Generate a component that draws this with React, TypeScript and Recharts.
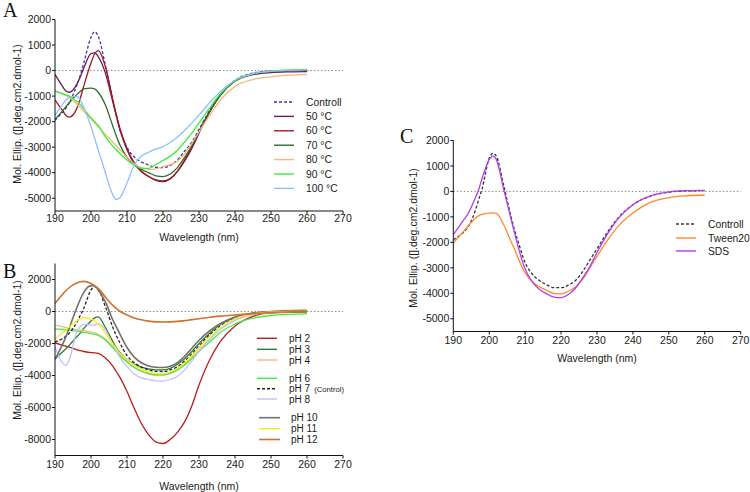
import React from 'react';
import { LineChart, Line, XAxis, YAxis, ReferenceLine, Legend } from 'recharts';

const FONT = '"Liberation Sans", Arial, Helvetica, sans-serif';

// Wavelength grid (nm) shared by all series
const wavelength = [190, 192, 193, 194, 196, 197, 198, 200, 201, 202, 204, 206, 207, 208, 210, 212, 214, 216, 218, 220, 222, 224, 226, 228, 230, 233, 236, 240, 245, 250, 255, 260];
const xTicks = [190, 200, 210, 220, 230, 240, 250, 260, 270];
const tempYTicks = [2000, 1000, 0, -1000, -2000, -3000, -4000, -5000];
const phYTicks = [2000, 0, -2000, -4000, -6000, -8000];
const surfYTicks = [2000, 1000, 0, -1000, -2000, -3000, -4000, -5000];

// Panel A: temperature
const tControl = [-1950, -1650, -1480, -1250, -600, -200, 300, 1300, 1520, 1350, 200, -1100, -1750, -2300, -3000, -3380, -3580, -3700, -3790, -3800, -3720, -3500, -3150, -2800, -2300, -1550, -920, -380, -100, -20, 0, 20];
const t50 = [-150, -600, -800, -850, -550, -250, 100, 660, 690, 550, -100, -1200, -1750, -2300, -3100, -3650, -3950, -4150, -4300, -4350, -4250, -3950, -3550, -3050, -2450, -1600, -950, -420, -160, -80, -50, -40];
const t60 = [-1150, -1550, -1750, -1820, -1500, -1100, -600, 300, 650, 780, 150, -1100, -1700, -2250, -3050, -3600, -3950, -4150, -4280, -4320, -4230, -3950, -3500, -3000, -2400, -1600, -950, -400, -130, -30, 0, 10];
const t70 = [-1900, -1600, -1420, -1250, -950, -820, -720, -690, -720, -850, -1350, -2150, -2550, -2900, -3400, -3700, -3870, -4000, -4120, -4150, -4050, -3800, -3400, -2950, -2400, -1600, -950, -400, -130, -30, 10, 40];
const t80 = [-780, -900, -970, -1050, -1300, -1450, -1600, -1900, -2050, -2200, -2500, -2800, -2950, -3100, -3400, -3650, -3800, -3870, -3850, -3760, -3680, -3550, -3250, -2850, -2400, -1750, -1150, -620, -350, -240, -180, -150];
const t90 = [-800, -900, -950, -1000, -1200, -1330, -1500, -1850, -2000, -2150, -2600, -2950, -3100, -3250, -3500, -3700, -3830, -3830, -3680, -3520, -3350, -3120, -2800, -2450, -2050, -1450, -900, -400, -130, -20, 20, 50];
const t100 = [-1750, -1350, -1150, -1050, -1000, -1150, -1450, -2200, -2650, -3100, -4000, -4850, -5050, -4980, -4400, -3700, -3350, -3200, -3080, -2980, -2820, -2600, -2350, -2050, -1750, -1250, -820, -380, -120, -30, 10, 30];

// Panel B: pH
const ph2 = [-1950, -2100, -2170, -2230, -2380, -2450, -2500, -2570, -2580, -2620, -2900, -3400, -3750, -4100, -5000, -6050, -7000, -7700, -8150, -8250, -8000, -7550, -6900, -5900, -4600, -3000, -1850, -900, -300, -90, -50, -40];
const ph3 = [-2950, -2550, -2330, -2100, -1600, -1350, -1050, -600, -400, -340, -1000, -1850, -2250, -2550, -3000, -3300, -3480, -3580, -3650, -3650, -3550, -3300, -2950, -2500, -2000, -1350, -800, -380, -110, -20, 0, 0];
const ph4 = [-850, -950, -1000, -1050, -1130, -1160, -1200, -1280, -1330, -1420, -1720, -2200, -2450, -2700, -3150, -3500, -3750, -3920, -4000, -4000, -3880, -3650, -3300, -2850, -2400, -1700, -1100, -550, -180, -10, 80, 130];
const ph6 = [-1080, -1120, -1140, -1170, -1220, -1260, -1300, -1380, -1420, -1500, -1780, -2250, -2500, -2750, -3150, -3500, -3720, -3870, -3950, -3950, -3850, -3650, -3350, -2950, -2500, -1900, -1300, -780, -420, -250, -180, -150];
const ph7 = [-1900, -1700, -1550, -1350, -700, -250, 200, 1350, 1550, 1400, 300, -950, -1500, -1950, -2750, -3200, -3480, -3650, -3740, -3750, -3650, -3450, -3100, -2650, -2150, -1450, -900, -420, -130, -20, 10, 20];
const ph8 = [-2200, -3200, -3380, -3000, -1300, -950, -800, -850, -850, -760, -1150, -2050, -2450, -2850, -3450, -3900, -4150, -4250, -4330, -4350, -4250, -4050, -3650, -3100, -2500, -1750, -1100, -550, -200, -60, 0, 20];
const ph10 = [-3000, -2100, -1600, -1000, 200, 750, 1200, 1620, 1600, 1350, 600, -500, -950, -1400, -2250, -2850, -3200, -3400, -3480, -3500, -3420, -3200, -2800, -2300, -1800, -1200, -750, -350, -100, 0, 30, 40];
const ph11 = [-1700, -1350, -1150, -950, -600, -470, -390, -480, -600, -760, -1350, -2000, -2300, -2600, -3000, -3350, -3600, -3780, -3880, -3900, -3780, -3550, -3200, -2750, -2250, -1550, -950, -450, -150, -30, 0, 0];
const ph12 = [500, 1050, 1300, 1500, 1780, 1860, 1880, 1750, 1620, 1450, 900, 400, 200, 20, -220, -400, -520, -600, -650, -660, -650, -620, -570, -510, -450, -360, -290, -220, -140, -60, -20, 0];

// Panel C: surfactants
const sControl = [-1900, -1700, -1580, -1420, -800, -350, 100, 1300, 1500, 1380, 250, -950, -1500, -1950, -2800, -3250, -3500, -3670, -3780, -3780, -3680, -3500, -3150, -2700, -2250, -1580, -1020, -520, -180, -30, 20, 30];
const sTween = [-2030, -1700, -1550, -1380, -1070, -960, -900, -850, -840, -860, -1300, -1950, -2250, -2600, -3200, -3550, -3750, -3880, -4000, -4020, -3920, -3750, -3450, -3000, -2550, -1900, -1350, -850, -420, -240, -170, -140];
const sSds = [-1700, -1300, -1100, -900, -300, 50, 500, 1250, 1390, 1250, 100, -1050, -1600, -2150, -3050, -3550, -3850, -4020, -4150, -4170, -4050, -3800, -3400, -2950, -2400, -1650, -1050, -520, -170, -20, 30, 40];

interface SeriesDef { key: string; label: string; sub?: string; values: number[]; color: string; dash?: string; width?: number; }
interface LegendRow { y: number; x1: number; x2: number; tx: number; }

const tempSeries: SeriesDef[] = [
  { key: 'c', label: 'Controll', values: tControl, color: '#3a3aa6', dash: '3 2' },
  { key: 't50', label: '50 °C', values: t50, color: '#6a1d5e' },
  { key: 't60', label: '60 °C', values: t60, color: '#a8161e' },
  { key: 't70', label: '70 °C', values: t70, color: '#2f6a30' },
  { key: 't80', label: '80 °C', values: t80, color: '#f7b677' },
  { key: 't90', label: '90 °C', values: t90, color: '#3cee3c' },
  { key: 't100', label: '100 °C', values: t100, color: '#8fbfff' },
];

const phSeries: SeriesDef[] = [
  { key: 'p2', label: 'pH 2', values: ph2, color: '#b81c1c' },
  { key: 'p3', label: 'pH 3', values: ph3, color: '#2e7a32' },
  { key: 'p4', label: 'pH 4', values: ph4, color: '#f5b88a' },
  { key: 'p6', label: 'pH 6', values: ph6, color: '#3ef03e' },
  { key: 'p7', label: 'pH 7', sub: '(Control)', values: ph7, color: '#222222', dash: '3 2' },
  { key: 'p8', label: 'pH 8', values: ph8, color: '#c0c0ff' },
  { key: 'p10', label: 'pH 10', values: ph10, color: '#707070', width: 1.6 },
  { key: 'p11', label: 'pH 11', values: ph11, color: '#f5ee1a' },
  { key: 'p12', label: 'pH 12', values: ph12, color: '#d0702c', width: 1.6 },
];

const surfSeries: SeriesDef[] = [
  { key: 'c', label: 'Controll', values: sControl, color: '#333333', dash: '3 2' },
  { key: 'tw', label: 'Tween20', values: sTween, color: '#ff8a2a' },
  { key: 'sds', label: 'SDS', values: sSds, color: '#b43cf0' },
];

interface PanelProps {
  left: number; top: number; width: number; height: number;
  margin: { top: number; right: number; bottom: number; left: number };
  yDomain: [number, number]; yTicks: number[];
  series: SeriesDef[];
  legendRows: LegendRow[]; legendFont: number;
  yTitleX: number; yTitleY: number;
  xTitleDy: number; xTickMargin: number;
}

const Y_AXIS_W = 45;
const X_AXIS_H = 35;

function Panel(p: PanelProps) {
  const rows = wavelength.map((w, i) => {
    const r: Record<string, number> = { w };
    p.series.forEach((s) => { r[s.key] = s.values[i]; });
    return r;
  });
  const tickStyle = { fontSize: 10.5, fill: '#1a1a1a', fontFamily: FONT };
  const plotLeft = p.margin.left + Y_AXIS_W;
  const plotW = p.width - plotLeft - p.margin.right;
  const plotBottom = p.height - p.margin.bottom - X_AXIS_H;
  const xTitle = () => (
    <text x={plotLeft + plotW / 2} y={plotBottom + p.xTitleDy} textAnchor="middle" fontSize={10.5} fill="#1a1a1a" fontFamily={FONT}>Wavelength (nm)</text>
  );
  const yTitle = () => (
    <text x={p.yTitleX} y={p.yTitleY} transform={`rotate(-90, ${p.yTitleX}, ${p.yTitleY})`} textAnchor="middle" dominantBaseline="central" fontSize={10.5} fill="#1a1a1a" fontFamily={FONT}>Mol. Ellip. ([].deg.cm2.dmol-1)</text>
  );
  const legendContent = () => (
    <svg width={p.width} height={p.height} style={{ position: 'absolute', left: 0, top: 0, overflow: 'visible' }}>
      {p.series.map((s, i) => {
        const r = p.legendRows[i];
        return (
          <g key={s.key}>
            <line x1={r.x1} x2={r.x2} y1={r.y} y2={r.y} stroke={s.color} strokeWidth={s.width ?? 1.4} strokeDasharray={s.dash} />
            <text x={r.tx} y={r.y} dominantBaseline="central" fontSize={p.legendFont} fill="#1a1a1a" fontFamily={FONT}>
              {s.label}
              {s.sub ? <tspan fontSize={p.legendFont - 2.3} dx={4}>{s.sub}</tspan> : null}
            </text>
          </g>
        );
      })}
    </svg>
  );
  return (
    <div style={{ position: 'absolute', left: p.left, top: p.top, width: p.width, height: p.height }}>
      <LineChart width={p.width} height={p.height} data={rows} margin={p.margin}>
        <XAxis dataKey="w" type="number" domain={[190, 270]} ticks={xTicks} interval={0} allowDataOverflow
          axisLine={{ stroke: '#111', strokeWidth: 1 }} tickLine={{ stroke: '#111' }} tickSize={3} tickMargin={p.xTickMargin}
          tick={tickStyle} height={X_AXIS_H} label={xTitle} />
        <YAxis type="number" domain={p.yDomain} ticks={p.yTicks} interval={0} allowDataOverflow width={Y_AXIS_W}
          axisLine={{ stroke: '#111', strokeWidth: 1 }} tickLine={{ stroke: '#111' }} tickSize={3} tickMargin={1}
          tick={tickStyle} label={yTitle} />
        <ReferenceLine y={0} stroke="#8c8c8c" strokeDasharray="1.5 2" strokeWidth={1} />
        {p.series.map((s) => (
          <Line key={s.key} type="monotone" dataKey={s.key} name={s.label} stroke={s.color} strokeWidth={s.width ?? 1.3}
            strokeDasharray={s.dash} dot={false} activeDot={false} isAnimationActive={false} />
        ))}
        <Legend layout="horizontal" verticalAlign="middle" align="center"
          wrapperStyle={{ left: 0, top: 0, width: p.width, height: p.height, pointerEvents: 'none' }}
          content={legendContent} />
      </LineChart>
    </div>
  );
}

const tempLegend: LegendRow[] = [0, 1, 2, 3, 4, 5, 6].map((i) => ({ y: 102 + i * 14.4, x1: 274, x2: 294, tx: 306 }));
const phLegendY = [338.3, 349.3, 360, 378.3, 388.7, 399, 417.7, 428.7, 439.5];
const phLegend: LegendRow[] = phLegendY.map((y, i) => (i < 6 ? { y: y - 250, x1: 257, x2: 277, tx: 289 } : { y: y - 250, x1: 259, x2: 280, tx: 291 }));
const surfLegend: LegendRow[] = [224, 238, 251].map((y) => ({ y: y - 120, x1: 296, x2: 316, tx: 328 }));

export default function App() {
  const letter = { fontFamily: '"Liberation Serif", "Times New Roman", serif', fontSize: 20, fill: '#111' };
  return (
    <div style={{ position: 'absolute', left: 0, top: 0, width: 750, height: 492, background: '#fff', overflow: 'hidden' }}>
      <Panel left={0} top={0} width={360} height={250}
        margin={{ top: 19.5, right: 17, bottom: 4, left: 10 }}
        yDomain={[-5500, 2000]} yTicks={tempYTicks} series={tempSeries}
        legendRows={tempLegend} legendFont={10.3}
        yTitleX={17} yTitleY={114} xTitleDy={29.5} xTickMargin={1} />
      <Panel left={0} top={250} width={360} height={242}
        margin={{ top: 13.5, right: 17, bottom: 1.5, left: 10 }}
        yDomain={[-9000, 3000]} yTicks={phYTicks} series={phSeries}
        legendRows={phLegend} legendFont={10}
        yTitleX={17} yTitleY={100} xTitleDy={34} xTickMargin={2} />
      <Panel left={380} top={120} width={370} height={250}
        margin={{ top: 20.5, right: 9.3, bottom: 3.5, left: 28.3 }}
        yDomain={[-5500, 2000]} yTicks={surfYTicks} series={surfSeries}
        legendRows={surfLegend} legendFont={10.3}
        yTitleX={33} yTitleY={118} xTitleDy={30.3} xTickMargin={2} />
      <svg width={750} height={492} style={{ position: 'absolute', left: 0, top: 0, pointerEvents: 'none' }}>
        <text x={3} y={17} {...letter}>A</text>
        <text x={3} y={278} {...letter}>B</text>
        <text x={400} y={143} {...letter}>C</text>
      </svg>
    </div>
  );
}
